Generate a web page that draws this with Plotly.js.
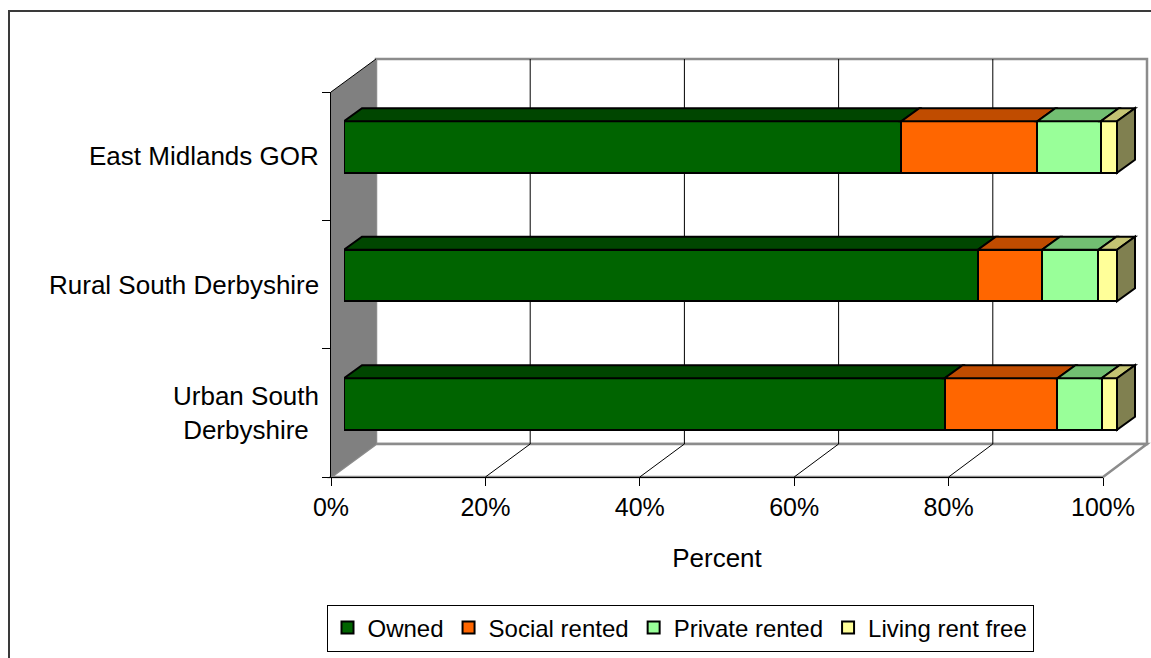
<!DOCTYPE html>
<html>
<head>
<meta charset="utf-8">
<script src="https://cdn.plot.ly/plotly-3.0.1.min.js"></script>
<style>html,body{margin:0;padding:0;background:#fff;}#chart{width:1151px;height:658px;}</style>
</head>
<body>
<div id="chart"></div>
<script>
// ---- data (bottom to top) ----
const categories = ['Urban South<br>Derbyshire', 'Rural South Derbyshire', 'East Midlands GOR'];
const owned = [77.7, 82.0, 72.1];
const socialRented = [14.6, 8.3, 17.6];
const privateRented = [5.7, 7.3, 8.2];
const livingRentFree = [2.0, 2.4, 2.1];
const seriesNames = ['Owned', 'Social rented', 'Private rented', 'Living rent free'];
const xTickVals = [0, 20, 40, 60, 80, 100];
const xTickText = xTickVals.map(v => v + '%');
const xTitle = 'Percent';

// ---- styles ----
const frontColors = ['#006400', '#FF6600', '#99FF99', '#FFFF99'];
const topColors = ['#004600', '#C04C00', '#72BF72', '#C4C473'];
const sideColor = '#808050';
const FONT = 'Liberation Sans, Arial, sans-serif';

const W = 1151, H = 658;
const px = x => x / W;
const py = y => 1 - y / H;

// floor / wall geometry (pixels)
const FX0 = 331, FX1 = 1103, FY = 477;     // floor front edge
const BX0 = 376, BX1 = 1147, BY = 444;     // back wall bottom
const WALL_FRONT_TOP = 92, WALL_BACK_TOP = 59;
const fx = v => FX0 + (FX1 - FX0) * v / 100;
const bx = v => BX0 + (BX1 - BX0) * v / 100;
const P = (x, y) => px(x) + ',' + py(y);

// bar plane geometry
const BAR_X0 = 344, BAR_PX_PER_UNIT = 7.73;
const XR = 103;
const BAR_Y_TOP = 82.75, BAR_Y_BOT = 468.25; // for range -0.5..2.5
const DX = 18 / BAR_PX_PER_UNIT;
const DY = 13 / 128.5;
const HALF = 0.2;

const series = [owned, socialRented, privateRented, livingRentFree];
const yIdx = categories.map((c, i) => i);

const traces = series.map((vals, s) => ({
  type: 'bar',
  orientation: 'h',
  name: seriesNames[s],
  x: vals,
  y: yIdx,
  width: 0.4,
  xaxis: 'x', yaxis: 'y',
  marker: { color: frontColors[s], line: { color: '#000', width: 2 } },
  hoverinfo: 'x+name'
}));

const shapes = [];
// back wall
shapes.push({ type: 'rect', xref: 'paper', yref: 'paper', layer: 'below',
  x0: px(BX0), x1: px(BX1), y0: py(BY), y1: py(WALL_BACK_TOP),
  fillcolor: '#fff', line: { color: '#8c8c8c', width: 2.5 } });
// floor
shapes.push({ type: 'path', xref: 'paper', yref: 'paper', layer: 'below',
  path: 'M' + P(fx(0), FY) + 'L' + P(fx(100), FY) + 'L' + P(bx(100), BY) + 'L' + P(bx(0), BY) + 'Z',
  fillcolor: '#fff', line: { color: '#8c8c8c', width: 2.5 } });
// left wall
shapes.push({ type: 'path', xref: 'paper', yref: 'paper', layer: 'below',
  path: 'M' + P(FX0, WALL_FRONT_TOP) + 'L' + P(BX0, WALL_BACK_TOP) + 'L' + P(BX0, BY) + 'L' + P(FX0, FY) + 'Z',
  fillcolor: '#808080', line: { width: 0 } });
shapes.push({ type: 'line', xref: 'paper', yref: 'paper', layer: 'below',
  x0: px(FX0), y0: py(WALL_FRONT_TOP), x1: px(BX0), y1: py(WALL_BACK_TOP),
  line: { color: '#000', width: 1 } });
// gridlines
xTickVals.filter(v => v > 0 && v < 100).forEach(v => {
  shapes.push({ type: 'line', xref: 'paper', yref: 'paper', layer: 'below',
    x0: px(bx(v)), x1: px(bx(v)), y0: py(WALL_BACK_TOP), y1: py(BY),
    line: { color: '#000', width: 1 } });
  shapes.push({ type: 'line', xref: 'paper', yref: 'paper', layer: 'below',
    x0: px(fx(v)), x1: px(bx(v)), y0: py(FY), y1: py(BY),
    line: { color: '#000', width: 1 } });
});
// outer frame
shapes.push({ type: 'rect', xref: 'paper', yref: 'paper', layer: 'below',
  x0: px(9), x1: px(1165), y0: py(675), y1: py(11),
  fillcolor: 'rgba(0,0,0,0)', line: { color: '#3a3a3a', width: 2 } });

// 3D bar faces
yIdx.forEach(i => {
  let cum = 0;
  series.forEach((vals, s) => {
    const x0 = cum, x1 = cum + vals[i];
    cum = x1;
    const yt = i + HALF;
    shapes.push({ type: 'path', xref: 'x', yref: 'y', layer: 'above',
      path: `M${x0},${yt}L${x1},${yt}L${x1 + DX},${yt + DY}L${x0 + DX},${yt + DY}Z`,
      fillcolor: topColors[s], line: { color: '#000', width: 2 } });
  });
  const yb = i - HALF, yt = i + HALF;
  shapes.push({ type: 'path', xref: 'x', yref: 'y', layer: 'above',
    path: `M${cum},${yb}L${cum},${yt}L${cum + DX},${yt + DY}L${cum + DX},${yb + DY}Z`,
    fillcolor: sideColor, line: { color: '#000', width: 2 } });
});

// category labels
const annotations = categories.map((c, i) => ({
  xref: 'paper', yref: 'y2', x: px(321), y: i + 0.5,
  xanchor: 'right', yanchor: 'middle', align: 'center', showarrow: false,
  text: c, font: { family: FONT, size: 26, color: '#000' }
}));

const layout = {
  width: W, height: H,
  margin: { l: 0, r: 0, t: 0, b: 0, pad: 0 },
  paper_bgcolor: '#fff',
  plot_bgcolor: 'rgba(0,0,0,0)',
  font: { family: FONT, size: 25, color: '#000' },
  barmode: 'stack',
  showlegend: true,
  legend: {
    orientation: 'h', x: px(680), y: py(628), xanchor: 'center', yanchor: 'middle',
    bordercolor: '#000', borderwidth: 1, bgcolor: '#fff',
    font: { family: FONT, size: 24, color: '#000' }, traceorder: 'normal'
  },
  xaxis: {
    domain: [px(BAR_X0), px(BAR_X0 + BAR_PX_PER_UNIT * XR)], range: [0, XR],
    anchor: 'y', showgrid: false, zeroline: false, showline: false,
    showticklabels: false, ticks: '', automargin: false, fixedrange: true
  },
  yaxis: {
    domain: [py(BAR_Y_BOT), py(BAR_Y_TOP)], range: [-0.5, 2.5],
    anchor: 'x', showgrid: false, zeroline: false, showline: false,
    showticklabels: false, ticks: '', automargin: false, fixedrange: true
  },
  xaxis2: {
    domain: [px(FX0), px(FX1)], range: [0, 100], anchor: 'y2',
    tickmode: 'array', tickvals: xTickVals, ticktext: xTickText,
    ticks: 'outside', ticklen: 8, tickcolor: '#000', tickwidth: 1,
    showline: true, linecolor: '#000', linewidth: 1,
    showgrid: false, zeroline: false, automargin: false,
    tickfont: { family: FONT, size: 25, color: '#000' },
    title: { text: xTitle, font: { family: FONT, size: 26, color: '#000' }, standoff: 28 }
  },
  yaxis2: {
    domain: [py(FY), py(WALL_FRONT_TOP)], range: [0, 3], anchor: 'x2',
    tickmode: 'array', tickvals: [0, 1, 2, 3],
    ticks: 'outside', ticklen: 8, tickcolor: '#000', tickwidth: 1,
    showticklabels: false, showline: true, linecolor: '#000', linewidth: 1,
    showgrid: false, zeroline: false, automargin: false
  },
  shapes: shapes,
  annotations: annotations
};

Plotly.newPlot('chart', traces, layout, { displayModeBar: false, staticPlot: true });
</script>
</body>
</html>
